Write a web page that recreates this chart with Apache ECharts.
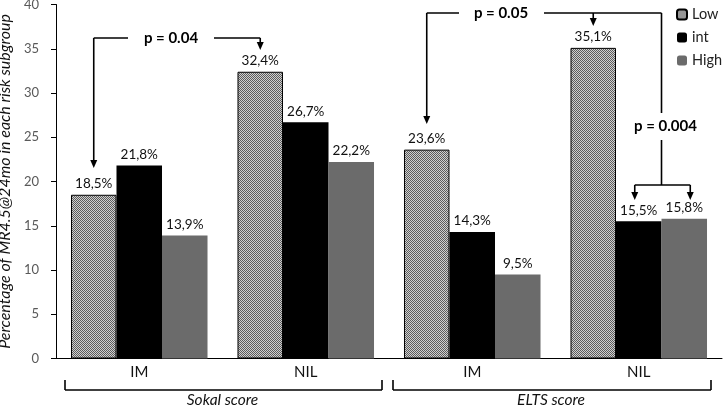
<!DOCTYPE html>
<html><head><meta charset="utf-8">
<script src="https://cdn.jsdelivr.net/npm/echarts@6/dist/echarts.min.js"></script>
<style>html,body{margin:0;padding:0;background:#fff}#c{width:725px;height:406px}</style>
</head><body><div id="c"></div>
<script>
const categories = ['IM', 'NIL', 'IM', 'NIL'];
const groupLabels = ['Sokal score', 'ELTS score'];
const seriesNames = ['Low', 'int', 'High'];
const lowValues = [18.5, 32.4, 23.6, 35.1];
const intValues = [21.8, 26.7, 14.3, 15.5];
const highValues = [13.9, 22.2, 9.5, 15.8];
const yTickMin = 0, yTickMax = 40, yTickStep = 5;
const yAxisTitle = 'Percentage of MR4.5@24mo in each risk subgroup';
const pTexts = ['p = 0.04', 'p = 0.05', 'p = 0.004'];

const FONT = 'Lato, "Open Sans", sans-serif';

// stipple pattern for "Low"
const pc = document.createElement('canvas');
pc.width = 2; pc.height = 2;
const pctx = pc.getContext('2d');
pctx.fillStyle = '#d0d0d0'; pctx.fillRect(0, 0, 2, 2);
pctx.fillStyle = '#5c5c5c'; pctx.fillRect(0, 0, 1, 1); pctx.fillRect(1, 1, 1, 1);

const chart = echarts.init(document.getElementById('c'), null, {renderer: 'canvas'});
const fmt = p => p.value.toFixed(1).replace('.', ',') + '%';
const labelCfg = {show: true, position: 'top', distance: 4, formatter: fmt,
  fontSize: 13.5, color: '#111', fontFamily: FONT};

chart.setOption({
  animation: false,
  textStyle: {fontFamily: FONT},
  grid: {left: 56, right: 3, top: 4.5, bottom: 47.5, containLabel: false, outerBoundsMode: 'none'},
  legend: {
    orient: 'vertical', left: 671, top: 2, itemWidth: 10, itemHeight: 10, itemGap: 8,
    data: seriesNames,
    textStyle: {fontSize: 14.5, color: '#222', fontFamily: FONT}
  },
  xAxis: {
    type: 'category', data: categories,
    axisLine: {lineStyle: {color: '#000', width: 1}},
    axisTick: {show: false},
    axisLabel: {fontSize: 15, color: '#111', margin: 6, fontFamily: FONT}
  },
  yAxis: {
    type: 'value', min: yTickMin, max: yTickMax, interval: yTickStep,
    name: yAxisTitle, nameLocation: 'middle', nameGap: 40,
    nameTextStyle: {fontSize: 16, fontStyle: 'italic', color: '#111', fontFamily: FONT},
    axisLine: {show: true, lineStyle: {color: '#000', width: 1}},
    axisTick: {show: true, length: 5, lineStyle: {color: '#000'}},
    axisLabel: {fontSize: 13, color: '#595959', margin: 17, fontFamily: FONT},
    splitLine: {show: false}
  },
  series: [
    {name: seriesNames[0], type: 'bar', data: lowValues, barGap: '0%', barCategoryGap: '18%',
     itemStyle: {color: {image: pc, repeat: 'repeat'}, borderColor: '#000', borderWidth: 1}, label: labelCfg},
    {name: seriesNames[1], type: 'bar', data: intValues,
     itemStyle: {color: '#000'}, label: labelCfg},
    {name: seriesNames[2], type: 'bar', data: highValues,
     itemStyle: {color: '#6b6b6b'}, label: labelCfg}
  ]
});

// annotations
const cx = i => chart.convertToPixel({xAxisIndex: 0}, i);
const band = cx(1) - cx(0);
const barW = band * (1 - 0.18) / 3;
const barX = (c, s) => cx(c) + (s - 1) * barW;

const LW = 1.6;
const G = [];
const ln = (x1, y1, x2, y2) => G.push({type: 'line', shape: {x1, y1, x2, y2}, style: {stroke: '#000', lineWidth: LW}, z: 100});
const arrow = (x, y1, yTip) => {
  ln(x, y1, x, yTip - 6);
  G.push({type: 'polygon', shape: {points: [[x - 3.5, yTip - 8], [x + 3.5, yTip - 8], [x, yTip]]}, style: {fill: '#000'}, z: 100});
};
const ptxt = (t, x, y) => G.push({type: 'text', x, y, style: {text: t, fontSize: 15, fontWeight: 'bold', fill: '#000', fontFamily: FONT, align: 'center', verticalAlign: 'middle'}, z: 100});

// p = 0.04
{
  const xa = barX(0, 0), xb = barX(1, 0), yh = 38, tx = 171;
  ln(xa, yh, tx - 43, yh);
  ln(tx + 43, yh, xb, yh);
  arrow(xa, yh, 168);
  arrow(xb, yh, 50);
  ptxt(pTexts[0], tx, yh);
}
// p = 0.05
{
  const xa = barX(2, 0), xb = barX(3, 0), xr = cx(3) + barW / 2, yh = 13, tx = 501;
  ln(xa, yh, tx - 42, yh);
  ln(tx + 43, yh, xr, yh);
  arrow(xa, yh, 124);
  arrow(xb, yh, 26);
  ptxt(pTexts[1], tx, yh);
  // p = 0.004
  ln(xr, yh, xr, 113);
  ptxt(pTexts[2], xr + 4, 126);
  const x1 = barX(3, 1) - 4, x2 = barX(3, 2) + 6;
  ln(xr, 140, xr, 185);
  ln(x1, 185, x2, 185);
  arrow(x1, 185, 200);
  arrow(x2, 185, 200);
}
// brackets under axis
const brackets = [[65, 382], [393, 711]];
brackets.forEach((b, i) => {
  ln(b[0], 380, b[0], 390);
  ln(b[0], 390, b[1], 390);
  ln(b[1], 390, b[1], 380);
  G.push({type: 'text', x: (b[0] + b[1]) / 2 - 1, y: 400, style: {text: groupLabels[i], fontSize: 15.5, fontStyle: 'italic', fill: '#111', fontFamily: FONT, align: 'center', verticalAlign: 'middle'}});
});
chart.setOption({graphic: G});
</script>
</body></html>
